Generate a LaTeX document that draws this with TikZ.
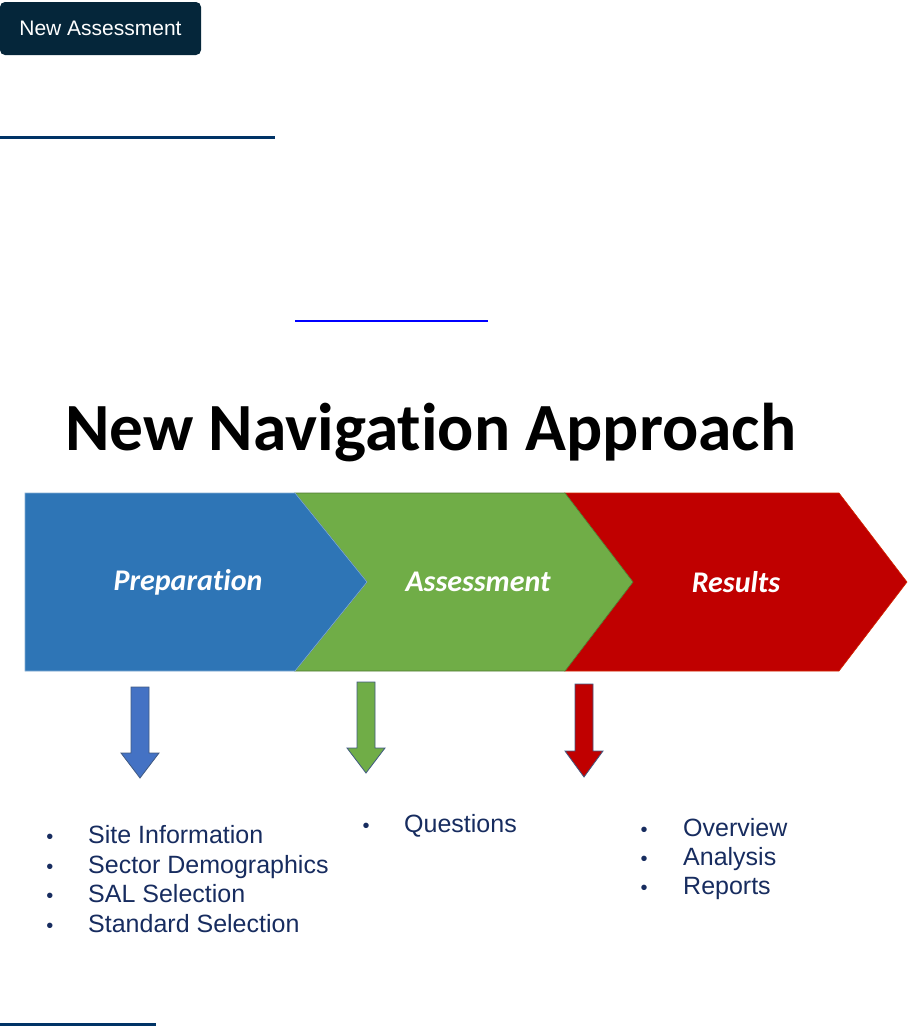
\documentclass[tikz,border=0pt]{standalone}
\usepackage{fontspec}
\setmainfont{Liberation Sans}
\newfontfamily\calibri[Ligatures=NoCommon]{Carlito}
\usepackage{xcolor}
\usetikzlibrary{positioning}
\definecolor{ButtonNavy}{RGB}{5,38,58}
\definecolor{RuleNavy}{RGB}{0,51,102}
\definecolor{LinkBlue}{RGB}{0,0,255}
\definecolor{ChevBlue}{RGB}{46,117,182}
\definecolor{ChevGreen}{RGB}{112,173,71}
\definecolor{ChevRed}{RGB}{192,0,0}
\definecolor{ArrowBlue}{RGB}{68,114,196}
\definecolor{ArrowEdge}{RGB}{65,90,130}
\definecolor{ListNavy}{RGB}{23,44,95}

\begin{document}
\begin{tikzpicture}[x=1pt, y=-1pt,
  btn/.style={fill=ButtonNavy, rounded corners=5pt, text=white,
              minimum width=201pt, minimum height=53pt, inner sep=0pt,
              font=\fontsize{21}{24}\selectfont},
  rule/.style={line width=3pt, RuleNavy},
  title/.style={anchor=base west, inner sep=0pt,
                font=\calibri\fontsize{67.5}{80}\selectfont\bfseries},
  chev/.style={text=white, font=\calibri\fontsize{30}{34}\selectfont\bfseries\itshape},
  item/.style={anchor=base west, inner sep=0pt, text=ListNavy,
               font=\fontsize{25}{30}\selectfont},
  dot/.style={anchor=base, inner sep=0pt, text=ListNavy,
              font=\fontsize{20}{24}\selectfont},
  darrow/.style={line width=0.8pt, draw=ArrowEdge},
]
\useasboundingbox (0,0) rectangle (919,1026);

% Button and page rules
\node[btn] (newbtn) at (100.5,28.5) {New Assessment};
\draw[rule] (0,137.5) -- (275,137.5);
\draw[line width=2pt, LinkBlue] (295,320.5) -- (488,320.5);
\draw[rule] (0,1024) -- (156,1024);

% Title
\node[title] (navtitle) at (65,450) {New Navigation Approach};

% Chevrons
\filldraw[fill=ChevRed, draw=ChevRed!70!orange, line width=0.6pt]
  (565,493) -- (839,493) -- (907,582) -- (839,671) -- (565,671) -- (633,582) -- cycle;
\filldraw[fill=ChevGreen, draw=ChevGreen!70!black, line width=0.6pt]
  (295,493) -- (565,493) -- (633,582) -- (565,671) -- (295,671) -- (367,582) -- cycle;
\filldraw[fill=ChevBlue, draw=ChevBlue!60!white, line width=0.6pt]
  (25,493) -- (295,493) -- (367,582) -- (295,671) -- (25,671) -- cycle;
\node[chev] (prep)   at (188,582) {Preparation};
\node[chev] (assess) at (478,582) {Assessment};
\node[chev] (result) at (736,582) {Results};

% Down arrows
\foreach \cx/\ty/\hy/\tipy/\col in {140/687/753/778/ArrowBlue,
                                    366/682/748/773/ChevGreen,
                                    584/684/751/777/ChevRed}
{
  \filldraw[darrow, fill=\col] (\cx-9,\ty) -- (\cx+9,\ty) -- (\cx+9,\hy)
    -- (\cx+19,\hy) -- (\cx,\tipy) -- (\cx-19,\hy) -- (\cx-9,\hy) -- cycle;
}

% Bullet lists
\foreach \y/\lbl [count=\i] in {843/Site Information, 873/Sector Demographics,
                                902/SAL Selection, 932/Standard Selection}
{
  \node[dot]  (pdot\i) at (50,\y) {•};
  \node[item] (pitem\i) at (88,\y) {\lbl};
}
\node[dot]  (qdot) at (366,832) {•};
\node[item] (qitem) at (404,832) {Questions};
\foreach \y/\lbl [count=\i] in {836/Overview, 865/Analysis, 894/Reports}
{
  \node[dot]  (rdot\i) at (644,\y) {•};
  \node[item] (ritem\i) at (683,\y) {\lbl};
}
\end{tikzpicture}
\end{document}
